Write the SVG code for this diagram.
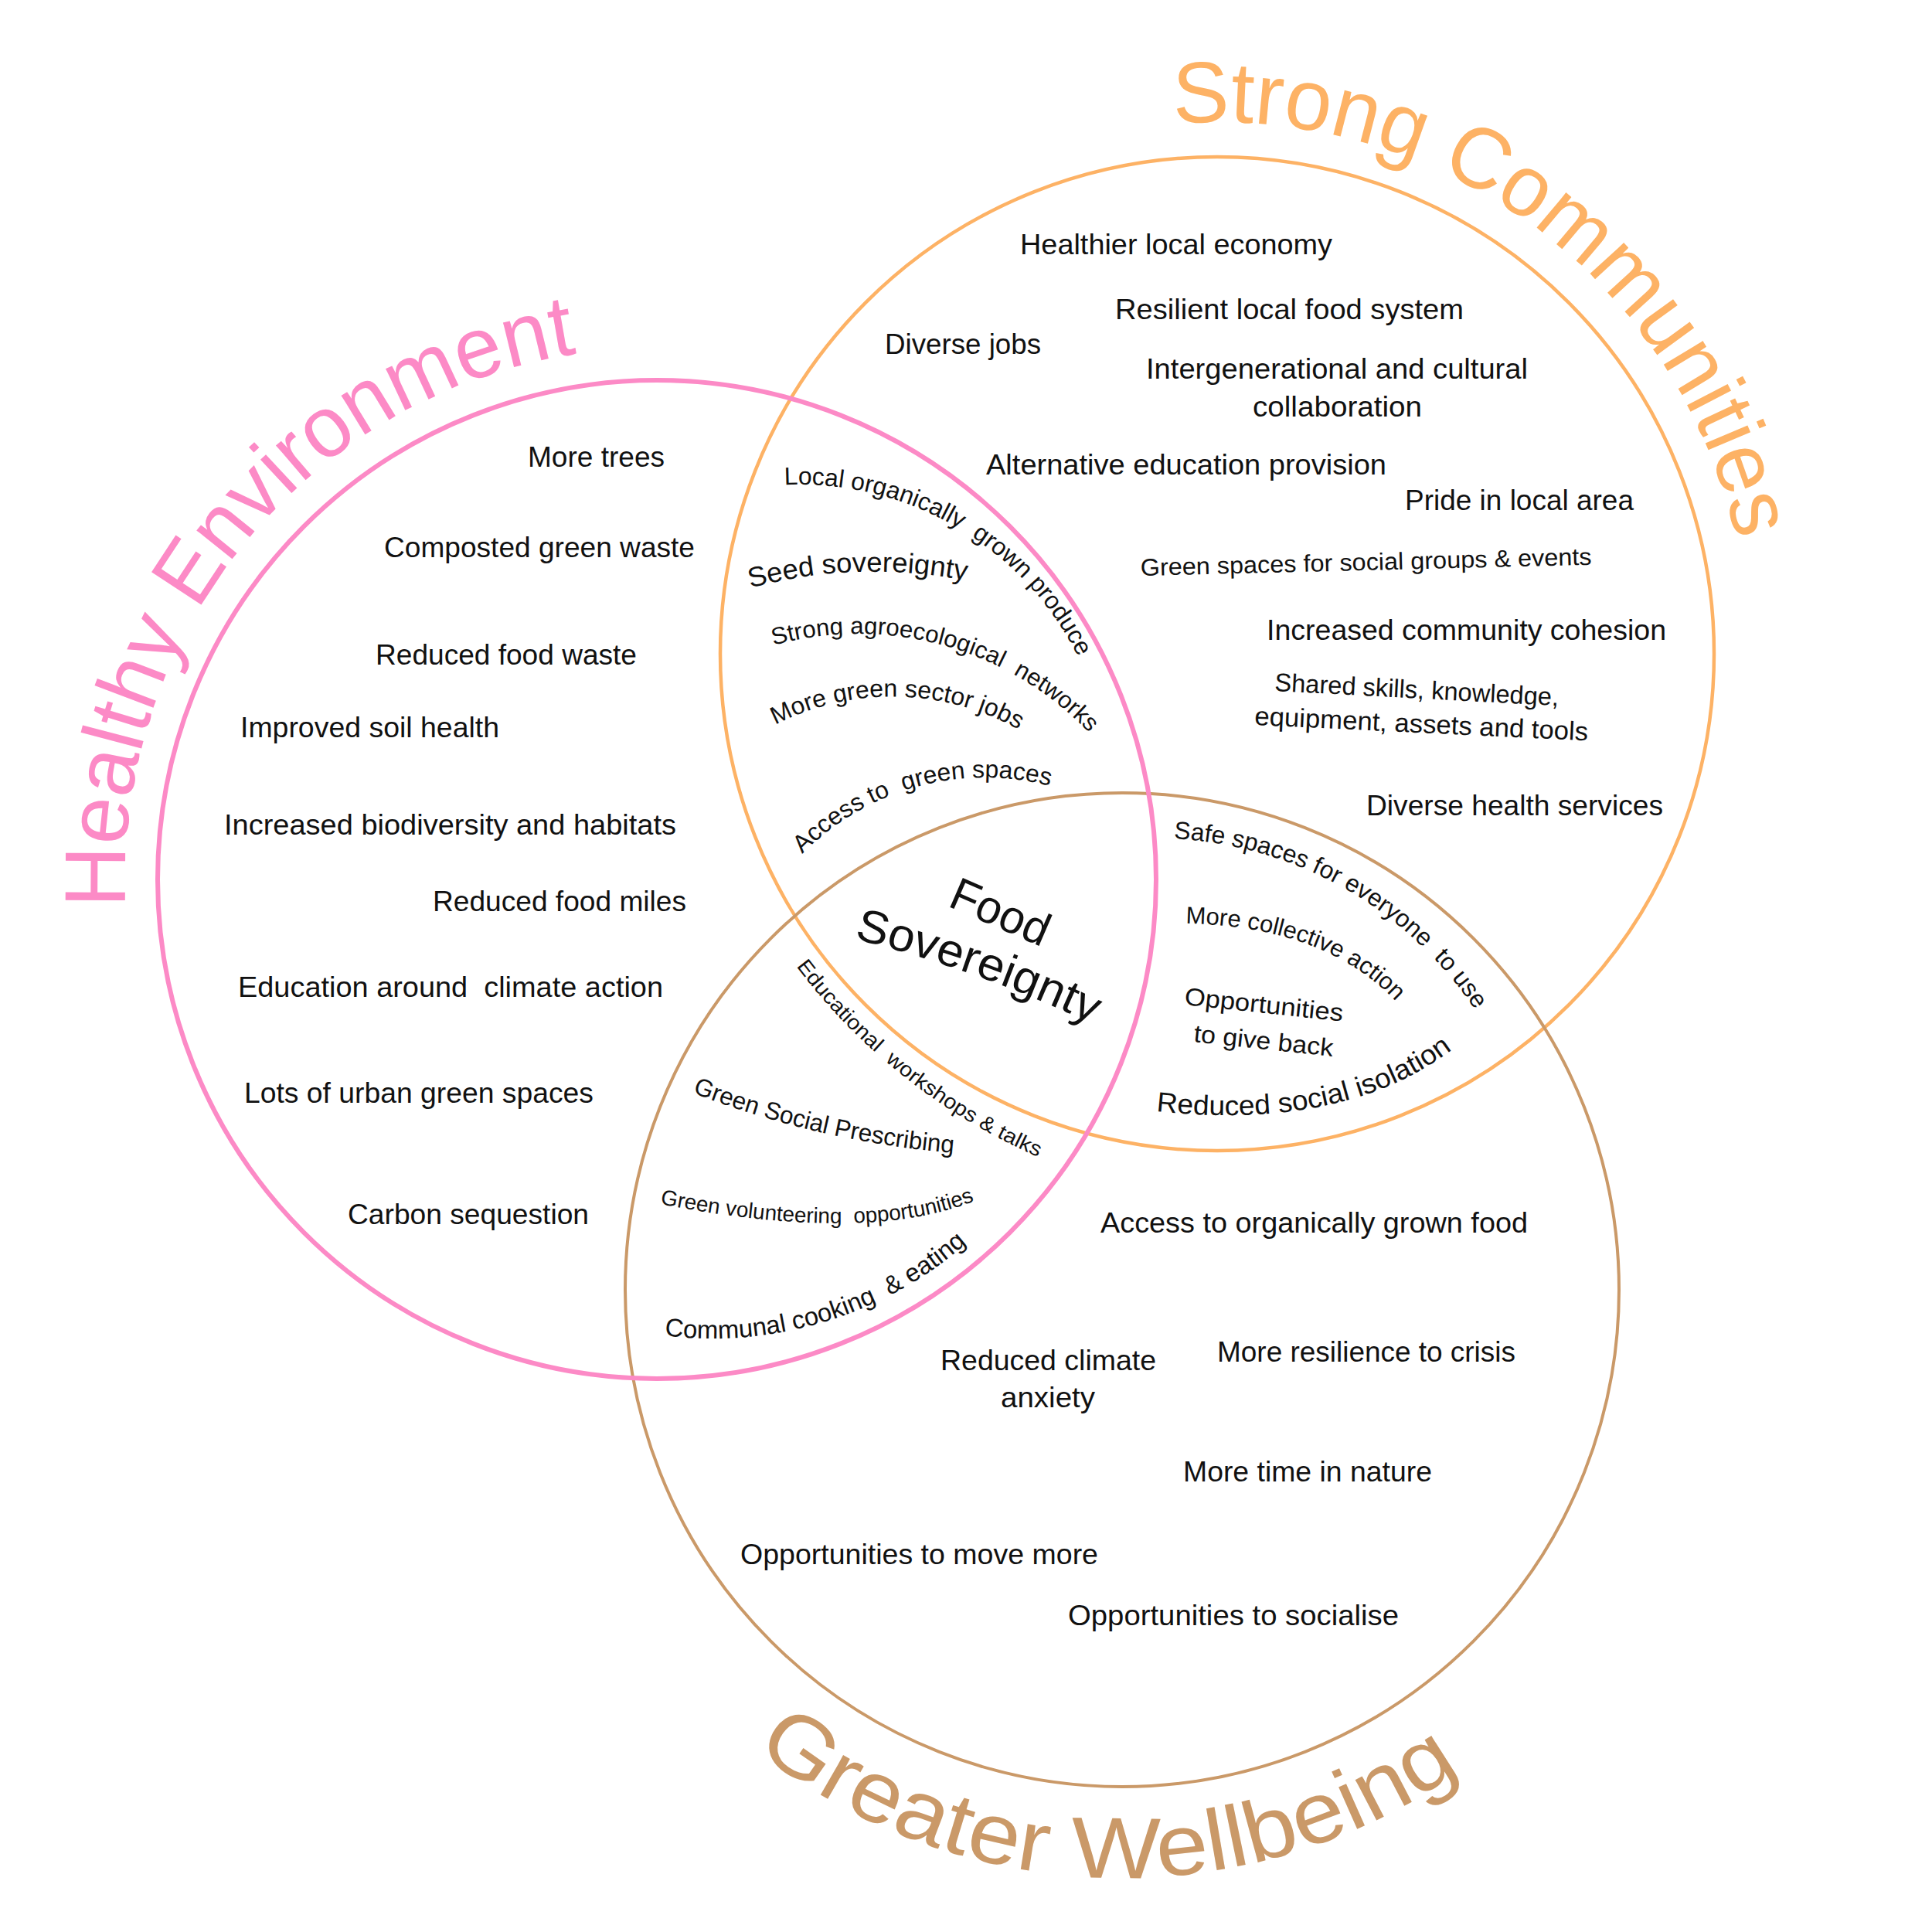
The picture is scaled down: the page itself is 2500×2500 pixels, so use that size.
<svg xmlns="http://www.w3.org/2000/svg" width="2500" height="2500" viewBox="0 0 2500 2500">
<style>
  text { font-family: "Liberation Sans", Arial, sans-serif; fill: #111; }
  .b { font-size: 37px; }
  .title { font-size: 112px; }
  .pink { stroke: #FC8AC6; }
  .orange { stroke: #FDB265; }
  .tan { stroke: #CA9968; }
  .ring { fill: none; }
</style>
<defs>
  <path id="p-he" d="M162.9,1174 A688,688 0 0 1 826,450.4"/>
  <path id="p-sc" d="M1518.6,160.3 A688,688 0 0 1 2262.6,822"/>
  <path id="p-gw" d="M977.2,2263.7 A761,761 0 0 0 1990.1,2207.1"/>
  <path id="p-local" d="M1015,627.4 A404,404 0 0 1 1424.2,926.4"/>
  <path id="p-seed" d="M971,761 Q1107,723.5 1255,752"/>
  <path id="p-agro" d="M1000.9,835 A412.5,412.5 0 0 1 1456.5,1008"/>
  <path id="p-jobs" d="M1003.1,938 A333,333 0 0 1 1368.9,979.3"/>
  <path id="p-access" d="M1038.1,1105.2 A331,331 0 0 1 1414.1,1037.2"/>
  <path id="p-safe" d="M1518.8,1085.2 A499,499 0 0 1 1945.7,1372.7"/>
  <path id="p-coll" d="M1534,1195 Q1718,1198.5 1810,1300"/>
  <path id="p-iso" d="M1496,1438 Q1745,1464.5 1886,1353"/>
  <path id="p-edu" d="M1030.2,1250.2 A783.2,783.2 0 0 0 1453,1535.4"/>
  <path id="p-gsp" d="M896,1414 Q1062,1478.5 1240,1492.5"/>
  <path id="p-gvol" d="M854,1558 Q1129,1611 1268,1551"/>
  <path id="p-comm" d="M859.9,1728.2 A501,501 0 0 0 1305.6,1553"/>
  <path id="p-sov" d="M1105,1215 Q1267,1255 1417,1327"/>
</defs>
<rect width="2500" height="2500" fill="#ffffff"/>

<g id="connectors">
  <circle class="ring orange" cx="1575" cy="846" r="643" stroke-width="4.5"/>
  <circle class="ring tan" cx="1452" cy="1669" r="643" stroke-width="4"/>
  <circle class="ring pink" cx="850" cy="1138" r="646" stroke-width="6"/>
</g>

<g id="healthy-environment">
  <text class="title" style="fill:#FC8AC6"><textPath href="#p-he" textLength="1013" lengthAdjust="spacingAndGlyphs">Healthy Environment</textPath></text>
  <text class="b" x="683" y="604" textLength="177" lengthAdjust="spacingAndGlyphs">More trees</text>
  <text class="b" x="497" y="721" textLength="402" lengthAdjust="spacingAndGlyphs">Composted green waste</text>
  <text class="b" x="486" y="860" textLength="338" lengthAdjust="spacingAndGlyphs">Reduced food waste</text>
  <text class="b" x="311" y="954" textLength="335" lengthAdjust="spacingAndGlyphs">Improved soil health</text>
  <text class="b" x="290" y="1080" textLength="585" lengthAdjust="spacingAndGlyphs">Increased biodiversity and habitats</text>
  <text class="b" x="560" y="1179" textLength="328" lengthAdjust="spacingAndGlyphs">Reduced food miles</text>
  <text class="b" x="308" y="1290" textLength="550" lengthAdjust="spacingAndGlyphs">Education around&#160; climate action</text>
  <text class="b" x="316" y="1427" textLength="452" lengthAdjust="spacingAndGlyphs">Lots of urban green spaces</text>
  <text class="b" x="450" y="1584" textLength="312" lengthAdjust="spacingAndGlyphs">Carbon sequestion</text>
</g>

<g id="strong-communities">
  <text class="title" style="fill:#FDB265"><textPath href="#p-sc" textLength="989" lengthAdjust="spacingAndGlyphs">Strong Communities</textPath></text>
  <text class="b" x="1320" y="329" textLength="404" lengthAdjust="spacingAndGlyphs">Healthier local economy</text>
  <text class="b" x="1443" y="413" textLength="451" lengthAdjust="spacingAndGlyphs">Resilient local food system</text>
  <text class="b" x="1145" y="458" textLength="202" lengthAdjust="spacingAndGlyphs">Diverse jobs</text>
  <text class="b" x="1483" y="490" textLength="494" lengthAdjust="spacingAndGlyphs">Intergenerational and cultural</text>
  <text class="b" x="1621" y="539" textLength="219" lengthAdjust="spacingAndGlyphs">collaboration</text>
  <text class="b" x="1276" y="614" textLength="518" lengthAdjust="spacingAndGlyphs">Alternative education provision</text>
  <text class="b" x="1818" y="660" textLength="296" lengthAdjust="spacingAndGlyphs">Pride in local area</text>
  <text x="1476" y="745" font-size="31" transform="rotate(-1.4 1476 745)" textLength="584" lengthAdjust="spacingAndGlyphs">Green spaces for social groups &amp; events</text>
  <text class="b" x="1639" y="828" textLength="517" lengthAdjust="spacingAndGlyphs">Increased community cohesion</text>
  <text x="1649" y="894" font-size="33" transform="rotate(3 1649 894)" textLength="368" lengthAdjust="spacingAndGlyphs">Shared skills, knowledge,</text>
  <text x="1623" y="938" font-size="34" transform="rotate(2.7 1623 938)" textLength="432" lengthAdjust="spacingAndGlyphs">equipment, assets and tools</text>
  <text class="b" x="1768" y="1055" textLength="384" lengthAdjust="spacingAndGlyphs">Diverse health services</text>
</g>

<g id="greater-wellbeing">
  <text class="title" style="fill:#CA9968"><textPath href="#p-gw" textLength="980" lengthAdjust="spacingAndGlyphs">Greater Wellbeing</textPath></text>
  <text class="b" x="1424" y="1595" textLength="553" lengthAdjust="spacingAndGlyphs">Access to organically grown food</text>
  <text class="b" x="1217" y="1773" textLength="279" lengthAdjust="spacingAndGlyphs">Reduced climate</text>
  <text class="b" x="1295" y="1821" textLength="122" lengthAdjust="spacingAndGlyphs">anxiety</text>
  <text class="b" x="1575" y="1762" textLength="386" lengthAdjust="spacingAndGlyphs">More resilience to crisis</text>
  <text class="b" x="1531" y="1917" textLength="322" lengthAdjust="spacingAndGlyphs">More time in nature</text>
  <text class="b" x="958" y="2024" textLength="463" lengthAdjust="spacingAndGlyphs">Opportunities to move more</text>
  <text class="b" x="1382" y="2103" textLength="428" lengthAdjust="spacingAndGlyphs">Opportunities to socialise</text>
</g>

<g id="environment-communities">
  <text font-size="32"><textPath href="#p-local" textLength="466" lengthAdjust="spacingAndGlyphs">Local organically&#160; grown produce</textPath></text>
  <text font-size="36"><textPath href="#p-seed" textLength="282" lengthAdjust="spacingAndGlyphs">Seed sovereignty</textPath></text>
  <text font-size="31"><textPath href="#p-agro" textLength="445" lengthAdjust="spacingAndGlyphs">Strong agroecological&#160; networks</textPath></text>
  <text font-size="32"><textPath href="#p-jobs" textLength="328" lengthAdjust="spacingAndGlyphs">More green sector jobs</textPath></text>
  <text font-size="32"><textPath href="#p-access" textLength="348" lengthAdjust="spacingAndGlyphs">Access to&#160; green spaces</textPath></text>
</g>

<g id="communities-wellbeing">
  <text font-size="32"><textPath href="#p-safe" textLength="465" lengthAdjust="spacingAndGlyphs">Safe spaces for everyone&#160; to use</textPath></text>
  <text font-size="31"><textPath href="#p-coll" textLength="298" lengthAdjust="spacingAndGlyphs">More collective action</textPath></text>
  <text x="1532" y="1300" font-size="32" transform="rotate(6 1532 1300)" textLength="206" lengthAdjust="spacingAndGlyphs">Opportunities</text>
  <text x="1544" y="1348" font-size="32" transform="rotate(6 1544 1348)" textLength="181" lengthAdjust="spacingAndGlyphs">to give back</text>
  <text font-size="36"><textPath href="#p-iso" textLength="401" lengthAdjust="spacingAndGlyphs">Reduced social isolation</textPath></text>
</g>

<g id="environment-wellbeing">
  <text font-size="27"><textPath href="#p-edu" textLength="403" lengthAdjust="spacingAndGlyphs">Educational&#160; workshops &amp; talks</textPath></text>
  <text font-size="32"><textPath href="#p-gsp" textLength="348" lengthAdjust="spacingAndGlyphs">Green Social Prescribing</textPath></text>
  <text font-size="28"><textPath href="#p-gvol" textLength="412" lengthAdjust="spacingAndGlyphs">Green volunteering&#160; opportunities</textPath></text>
  <text font-size="33"><textPath href="#p-comm" textLength="421" lengthAdjust="spacingAndGlyphs">Communal cooking&#160; &amp; eating</textPath></text>
</g>

<g id="food-sovereignty">
  <text x="1225" y="1172" font-size="60" transform="rotate(23.5 1225 1172)" textLength="134" lengthAdjust="spacingAndGlyphs">Food</text>
  <text font-size="60"><textPath href="#p-sov" textLength="328" lengthAdjust="spacingAndGlyphs">Sovereignty</textPath></text>
</g>
</svg>
